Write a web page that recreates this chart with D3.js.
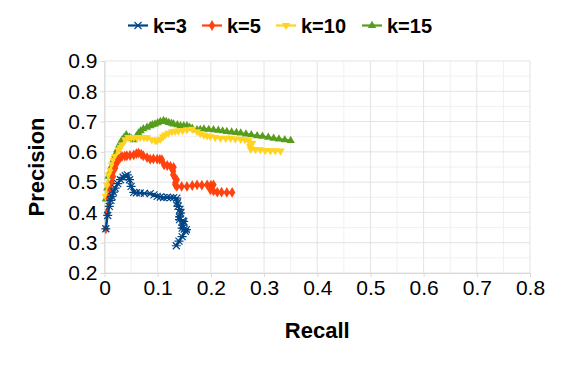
<!DOCTYPE html>
<html>
<head>
<meta charset="utf-8">
<script src="https://cdn.jsdelivr.net/npm/d3@7"></script>
<style>
  body { margin: 0; background: #fff; }
  svg { font-family: "Liberation Sans", Arial, sans-serif; }
</style>
</head>
<body>
<svg id="chart" width="565" height="368"></svg>
<script>
'use strict';

// series: [recall, precision]
const seriesNames = ['k=3', 'k=5', 'k=10', 'k=15'];

const k3 = [
  [0.0025, 0.346], [0.006, 0.39], [0.009, 0.42], [0.012, 0.44], [0.014, 0.453], [0.017, 0.467],
  [0.020, 0.48], [0.025, 0.495], [0.030, 0.508], [0.035, 0.516], [0.039, 0.521], [0.043, 0.524],
  [0.047, 0.508], [0.050, 0.486], [0.055, 0.466], [0.060, 0.465], [0.067, 0.464], [0.075, 0.463],
  [0.086, 0.462], [0.093, 0.458], [0.099, 0.453], [0.105, 0.451], [0.111, 0.449], [0.118, 0.450],
  [0.124, 0.449], [0.130, 0.449], [0.136, 0.447], [0.137, 0.432], [0.138, 0.42], [0.142, 0.41],
  [0.143, 0.398], [0.141, 0.385], [0.141, 0.376], [0.147, 0.372], [0.149, 0.37], [0.147, 0.358],
  [0.146, 0.348], [0.150, 0.345], [0.154, 0.343], [0.152, 0.338], [0.146, 0.32], [0.140, 0.305],
  [0.135, 0.29]
];

const k5 = [
  [0.0025, 0.346], [0.005, 0.40], [0.0075, 0.447], [0.011, 0.475], [0.014, 0.50], [0.016, 0.519],
  [0.020, 0.546], [0.023, 0.562], [0.026, 0.574], [0.030, 0.581], [0.033, 0.585], [0.038, 0.586],
  [0.042, 0.587], [0.048, 0.588], [0.055, 0.590], [0.060, 0.594], [0.064, 0.596], [0.069, 0.592],
  [0.073, 0.587], [0.080, 0.581], [0.086, 0.576], [0.092, 0.577], [0.099, 0.576], [0.104, 0.575],
  [0.108, 0.574], [0.112, 0.557], [0.118, 0.555], [0.124, 0.552], [0.130, 0.549], [0.129, 0.536],
  [0.129, 0.524], [0.133, 0.513], [0.136, 0.508], [0.133, 0.498], [0.133, 0.491], [0.136, 0.486],
  [0.145, 0.486], [0.155, 0.486], [0.165, 0.489], [0.174, 0.491], [0.183, 0.490], [0.193, 0.491],
  [0.200, 0.490], [0.205, 0.491], [0.202, 0.480], [0.199, 0.475], [0.205, 0.471], [0.212, 0.467],
  [0.220, 0.467], [0.230, 0.466], [0.240, 0.466]
];

const k10 = [
  [0.0025, 0.453], [0.005, 0.49], [0.0075, 0.524], [0.011, 0.54], [0.014, 0.557], [0.017, 0.572],
  [0.020, 0.585], [0.026, 0.607], [0.030, 0.615], [0.033, 0.623], [0.039, 0.640], [0.045, 0.648],
  [0.050, 0.648], [0.055, 0.648], [0.061, 0.647], [0.067, 0.648], [0.074, 0.648], [0.080, 0.647],
  [0.089, 0.640], [0.095, 0.638], [0.099, 0.637], [0.105, 0.642], [0.110, 0.650], [0.114, 0.656],
  [0.120, 0.662], [0.127, 0.667], [0.133, 0.668], [0.139, 0.669], [0.147, 0.671], [0.155, 0.673],
  [0.165, 0.675], [0.174, 0.667], [0.180, 0.661], [0.187, 0.656], [0.193, 0.653], [0.199, 0.651],
  [0.208, 0.648], [0.218, 0.645], [0.228, 0.645], [0.237, 0.645], [0.246, 0.643], [0.256, 0.642],
  [0.264, 0.640], [0.271, 0.637], [0.278, 0.629], [0.274, 0.618], [0.275, 0.609], [0.284, 0.608],
  [0.293, 0.607], [0.302, 0.605], [0.312, 0.604], [0.321, 0.604], [0.331, 0.603]
];

const k15 = [
  [0.0025, 0.444], [0.005, 0.48], [0.0075, 0.519], [0.011, 0.535], [0.014, 0.555], [0.017, 0.574],
  [0.020, 0.590], [0.024, 0.607], [0.028, 0.624], [0.033, 0.640], [0.037, 0.648], [0.041, 0.656],
  [0.047, 0.648], [0.051, 0.644], [0.055, 0.640], [0.060, 0.652], [0.064, 0.662], [0.068, 0.669],
  [0.073, 0.676], [0.080, 0.681], [0.086, 0.686], [0.090, 0.689], [0.095, 0.692], [0.100, 0.696],
  [0.105, 0.700], [0.111, 0.703], [0.116, 0.700], [0.121, 0.697], [0.126, 0.694], [0.130, 0.692],
  [0.137, 0.689], [0.143, 0.686], [0.149, 0.686], [0.155, 0.686], [0.160, 0.681], [0.165, 0.678],
  [0.174, 0.673], [0.180, 0.674], [0.187, 0.675], [0.196, 0.674], [0.205, 0.673], [0.214, 0.671],
  [0.222, 0.669], [0.230, 0.667], [0.239, 0.665], [0.248, 0.664], [0.256, 0.662], [0.266, 0.659],
  [0.276, 0.656], [0.287, 0.653], [0.297, 0.651], [0.308, 0.648], [0.318, 0.645], [0.328, 0.642],
  [0.339, 0.640], [0.350, 0.637]
];

const xTicks = [0, 0.1, 0.2, 0.3, 0.4, 0.5, 0.6, 0.7, 0.8];
const yTicks = [0.2, 0.3, 0.4, 0.5, 0.6, 0.7, 0.8, 0.9];

const COLORS = ['#004586', '#ff420e', '#ffd320', '#579d1c'];
const LEFT = 104.5;
const RIGHT = 530;
const TOP = 61;
const BOTTOM = 273;

const svg = d3.select('#chart');

const x = d3.scaleLinear().domain([0, 0.8]).range([LEFT, RIGHT]);
const y = d3.scaleLinear().domain([0.2, 0.9]).range([BOTTOM, TOP]);

// grid: minor lines every 0.05, major every 0.1
const grid = svg.append('g').attr('class', 'grid');
const minorX = d3.range(0.05, 0.8, 0.1);
const minorY = d3.range(0.25, 0.9, 0.1);

grid.selectAll('.vmin').data(minorX).enter().append('line')
  .attr('x1', d => x(d)).attr('x2', d => x(d))
  .attr('y1', TOP).attr('y2', BOTTOM)
  .attr('stroke', '#f0f0f0');
grid.selectAll('.hmin').data(minorY).enter().append('line')
  .attr('y1', d => y(d)).attr('y2', d => y(d))
  .attr('x1', LEFT).attr('x2', RIGHT)
  .attr('stroke', '#f0f0f0');
grid.selectAll('.vmaj').data(xTicks).enter().append('line')
  .attr('x1', d => x(d)).attr('x2', d => x(d))
  .attr('y1', TOP).attr('y2', BOTTOM)
  .attr('stroke', '#e3e3e3');
grid.selectAll('.hmaj').data(yTicks).enter().append('line')
  .attr('y1', d => y(d)).attr('y2', d => y(d))
  .attr('x1', LEFT).attr('x2', RIGHT)
  .attr('stroke', '#e3e3e3');

// axes
const xAxis = d3.axisBottom(x).tickValues(xTicks).tickSize(4).tickSizeOuter(0)
  .tickFormat(d => d === 0 ? '0' : d3.format('.1f')(d));
const yAxis = d3.axisLeft(y).tickValues(yTicks).tickSize(4).tickSizeOuter(0)
  .tickFormat(d3.format('.1f'));

const gX = svg.append('g')
  .attr('transform', 'translate(0,' + BOTTOM + ')')
  .call(xAxis);
const gY = svg.append('g')
  .attr('transform', 'translate(' + LEFT + ',0)')
  .call(yAxis);

[gX, gY].forEach(g => {
  g.select('.domain').attr('stroke', '#d9d9d9');
  g.selectAll('.tick line').attr('stroke', '#d9d9d9');
  g.selectAll('.tick text')
    .attr('fill', '#000')
    .style('font-size', '21px')
    .style('font-family', '"Liberation Sans", Arial, sans-serif');
});
gX.selectAll('.tick text').attr('y', 7);
gY.selectAll('.tick text').attr('x', -7);

// axis titles
svg.append('text')
  .attr('x', (LEFT + RIGHT) / 2)
  .attr('y', 338)
  .attr('text-anchor', 'middle')
  .style('font-size', '22px')
  .style('font-weight', 'bold')
  .text('Recall');

svg.append('text')
  .attr('transform', 'translate(44,' + (TOP + BOTTOM) / 2 + ') rotate(-90)')
  .attr('text-anchor', 'middle')
  .style('font-size', '22px')
  .style('font-weight', 'bold')
  .text('Precision');

// markers
const asterisk = 'M-3.5,-3.5L3.5,3.5M-3.5,3.5L3.5,-3.5M-4.5,0L4.5,0';
const markerPath = [
  () => asterisk,
  () => d3.symbol(d3.symbolDiamond, 34)(),
  () => d3.symbol(d3.symbolTriangle, 30)(),
  () => d3.symbol(d3.symbolTriangle, 30)()
];
const markerRotate = [0, 0, 180, 0];

function drawMarker(g, i, px, py) {
  const m = g.append('path')
    .attr('d', markerPath[i]())
    .attr('transform', 'translate(' + px + ',' + py + ') rotate(' + markerRotate[i] + ')');
  if (i === 0) {
    m.attr('fill', 'none').attr('stroke', COLORS[i]).attr('stroke-width', 1.2);
  } else {
    m.attr('fill', COLORS[i]).attr('stroke', 'none');
  }
}

const line = d3.line().x(d => x(d[0])).y(d => y(d[1]));
const allSeries = [k3, k5, k10, k15];

// draw back to front so blue ends on top like the original
[3, 2, 1, 0].forEach(i => {
  const g = svg.append('g').attr('class', 'series');
  g.append('path')
    .datum(allSeries[i])
    .attr('d', line)
    .attr('fill', 'none')
    .attr('stroke', COLORS[i])
    .attr('stroke-width', 2.2)
    .attr('stroke-linejoin', 'round');
  allSeries[i].forEach(d => drawMarker(g, i, x(d[0]), y(d[1])));
});

// legend
const legendX = [128, 202, 276, 362];
const LEGEND_Y = 25.5;
const legend = svg.append('g').attr('class', 'legend');
seriesNames.forEach((name, i) => {
  const g = legend.append('g');
  g.append('line')
    .attr('x1', legendX[i]).attr('x2', legendX[i] + 20)
    .attr('y1', LEGEND_Y).attr('y2', LEGEND_Y)
    .attr('stroke', COLORS[i]).attr('stroke-width', 2.2);
  drawMarker(g, i, legendX[i] + 10, LEGEND_Y);
  g.append('text')
    .attr('x', legendX[i] + 25)
    .attr('y', LEGEND_Y + 7)
    .style('font-size', '20px')
    .style('font-weight', 'bold')
    .text(name);
});
</script>
</body>
</html>
